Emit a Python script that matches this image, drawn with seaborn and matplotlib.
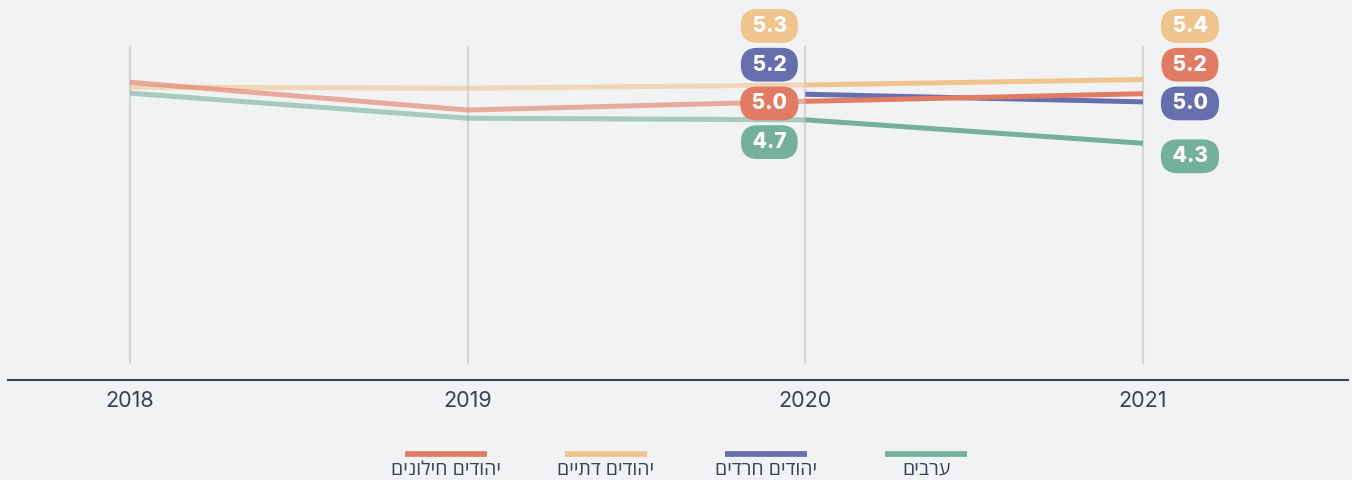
import numpy as np
import pandas as pd
import seaborn as sns
import matplotlib.pyplot as plt
from matplotlib.lines import Line2D

# data
years = [2018, 2019, 2020, 2021]
groups = ['ערבים', 'יהודים חרדים', 'יהודים דתיים', 'יהודים חילונים']
arab = [5.19, 4.73, 4.70, 4.27]
haredi = [np.nan, np.nan, 5.17, 5.03]
religious = [5.30, 5.28, 5.34, 5.44]
secular = [5.39, 4.88, 5.04, 5.18]
colors = ['#74b09a', '#666eae', '#f0c48d', '#e27b64']
label_years = [2020, 2021]

bg = '#f1f2f4'
ink = '#3b4055'

df = pd.DataFrame({
    'year': years * 4,
    'value': arab + haredi + religious + secular,
    'group': [g for g in groups for _ in years],
}).dropna()

sns.set_theme(style='white')
plt.rcParams['font.family'] = ['Inter', 'DejaVu Sans']

fig = plt.figure(figsize=(13.52, 4.8), dpi=100, facecolor=bg)
ax = fig.add_axes([8 / 1352, 100 / 480, 1340 / 1352, 334 / 480])
ax.set_facecolor(bg)
y0, y1 = -0.073, 6.055
ax.set_xlim(2017.639, 2021.607)
ax.set_ylim(y0, y1)

for yr in years:
    ax.axvline(yr, ymin=0.051, ymax=1, color='#d4d5d8', lw=1.6, zorder=0)

# faded history, solid last year
line_kw = dict(x='year', y='value', hue='group', hue_order=groups, palette=colors,
               lw=3.6, legend=False, ax=ax, solid_capstyle='butt')
sns.lineplot(data=df[df.year <= 2020], alpha=0.6, **line_kw)
sns.lineplot(data=df[df.year >= 2020], **line_kw)

# value labels
series = dict(zip(groups, [arab, haredi, religious, secular]))
cmap = dict(zip(groups, colors))
slot_top, step, off = 1.0599, 0.1159, 13 / 334
for yr, dx in zip(label_years, [-25.9, 33.8]):
    idx = years.index(yr)
    vals = [(g, series[g][idx]) for g in groups if not np.isnan(series[g][idx])]
    vals.sort(key=lambda t: -t[1])
    for i, (g, v) in enumerate(vals):
        yf = slot_top - i * step
        if i == len(vals) - 1:
            yf = min(yf, (v - y0) / (y1 - y0) - off)
        ax.annotate(f' {v:.1f} ', xy=(yr, yf), xycoords=ax.get_xaxis_transform(),
                    xytext=(dx, 0), textcoords='offset points', ha='center', va='center',
                    color='white', fontweight='heavy', fontsize=15, annotation_clip=False,
                    bbox=dict(boxstyle='round,pad=0.33,rounding_size=0.8', fc=cmap[g], ec='none'))

for s in ['top', 'left', 'right']:
    ax.spines[s].set_visible(False)
ax.spines['bottom'].set_color('#3d4259')
ax.spines['bottom'].set_linewidth(1.5)
ax.set_xticks(years)
ax.set_yticks([])
ax.tick_params(axis='x', length=0, pad=8, labelsize=15.5, labelcolor=ink)
ax.set_xlabel('')
ax.set_ylabel('')

# legend, right to left
for i, (g, c) in enumerate(zip(groups, colors)):
    xc = 926 - i * 160
    fig.add_artist(Line2D([(xc - 41) / 1352, (xc + 41) / 1352], [26 / 480, 26 / 480],
                          color=c, lw=4.1, solid_capstyle='butt'))
    fig.text(xc / 1352, 19 / 480, g[::-1], ha='center', va='top', fontsize=14, color=ink,
             family=['Open Sans', 'DejaVu Sans'])

fig.savefig('out.png', dpi=100, facecolor=bg)
